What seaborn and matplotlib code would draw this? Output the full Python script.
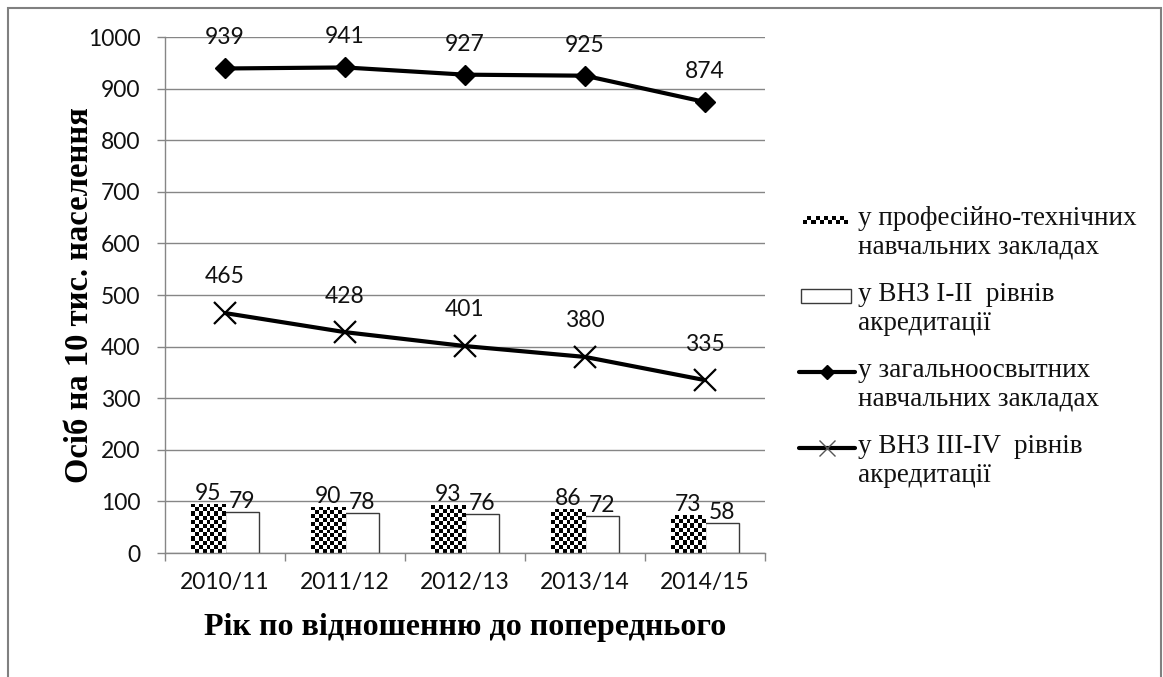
import numpy as np
import pandas as pd
import matplotlib
matplotlib.use("Agg")
import matplotlib.pyplot as plt
import seaborn as sns
from matplotlib.colors import ListedColormap
from matplotlib.patches import Rectangle, Patch
from matplotlib.lines import Line2D
from matplotlib.legend_handler import HandlerLine2D, HandlerBase
from matplotlib.transforms import Affine2D

# ---- data -------------------------------------------------------------
years = ["2010/11", "2011/12", "2012/13", "2013/14", "2014/15"]
vocational = [95, 90, 93, 86, 73]          # у професійно-технічних навчальних закладах
colleges_1_2 = [79, 78, 76, 72, 58]        # у ВНЗ I-II рівнів акредитації
schools = [939, 941, 927, 925, 874]        # у загальноосвітних навчальних закладах
universities_3_4 = [465, 428, 401, 380, 335]  # у ВНЗ III-IV рівнів акредитації

series_names = [
    "у професійно-технічних\nнавчальних закладах",
    "у ВНЗ I-II  рівнів\nакредитації",
    "у загальноосвытних\nнавчальних закладах",
    "у ВНЗ III-IV  рівнів\nакредитації",
]
y_ticks = list(range(0, 1001, 100))

# ---- style ------------------------------------------------------------
sns.set_style("white")
plt.rcParams["font.family"] = ["Lato", "DejaVu Sans"]
GRID = "#868686"
TXT = "#111111"
SERIF = ["Liberation Serif", "DejaVu Serif"]

W, H = 1163, 677
fig = plt.figure(figsize=(W / 100, H / 100), dpi=100)
ax = fig.add_axes([165 / W, 1 - 553 / H, 600 / W, 516 / H])

# ---- bars -------------------------------------------------------------
bars = pd.DataFrame({
    "year": years * 2,
    "value": vocational + colleges_1_2,
    "series": [series_names[0]] * len(years) + [series_names[1]] * len(years),
})
sns.barplot(data=bars, x="year", y="value", hue="series",
            palette=["black", "white"], saturation=1, width=0.57,
            legend=False, ax=ax, zorder=2)
ax.set_xlim(-0.5, len(years) - 0.5)
ax.set_ylim(0, 1000)

checker_bars, plain_bars = ax.containers[0], ax.containers[1]
for p in plain_bars:
    p.set_facecolor("white")
    p.set_edgecolor("#3a3a3a")
    p.set_linewidth(1.0)

# small-checkerboard fill for the vocational bars
CELL = 4.0  # px
checker_cmap = ListedColormap(["white", "black"])
for p in checker_bars:
    p.set_facecolor("white")
    p.set_edgecolor("none")
    x, y, w, h = p.get_x(), p.get_y(), p.get_width(), p.get_height()
    (x0, y0), (x1, y1) = ax.transData.transform([(x, y), (x + w, y + h)])
    nx = max(1, int(round((x1 - x0) / CELL)))
    ny = max(1, int(round((y1 - y0) / CELL)))
    grid = np.add.outer(np.arange(ny), np.arange(nx)) % 2
    im = ax.imshow(grid, cmap=checker_cmap, extent=(x, x + w, y, y + h),
                   origin="lower", aspect="auto", interpolation="nearest",
                   zorder=2.5)
    im.set_clip_path(p)
ax.set_xlim(-0.5, len(years) - 0.5)
ax.set_ylim(0, 1000)

ax.bar_label(checker_bars, labels=[str(v) for v in vocational], padding=0,
             fontsize=16.5, color=TXT)
ax.bar_label(plain_bars, labels=[str(v) for v in colleges_1_2], padding=0,
             fontsize=16.5, color=TXT)

# ---- lines ------------------------------------------------------------
pos = np.arange(len(years))
sns.lineplot(x=pos, y=schools, color="black", linewidth=3, marker="D",
             markersize=10.5, markeredgecolor="black", markeredgewidth=1,
             ax=ax, zorder=4)
sns.lineplot(x=pos, y=universities_3_4, color="black", linewidth=3, marker="x",
             markersize=16, markeredgecolor="black", markeredgewidth=1.6,
             ax=ax, zorder=4)
for i, v in enumerate(schools):
    ax.annotate(str(v), (i, v), xytext=(0, 22), textcoords="offset points",
                ha="center", va="center", fontsize=16.5, color=TXT, zorder=5)
for i, v in enumerate(universities_3_4):
    ax.annotate(str(v), (i, v), xytext=(0, 26), textcoords="offset points",
                ha="center", va="center", fontsize=16.5, color=TXT, zorder=5)

ax.set_xlim(-0.5, len(years) - 0.5)
ax.set_ylim(0, 1000)

# ---- axes ---------------------------------------------------------------
ax.set_axisbelow(True)
ax.set_yticks(y_ticks)
ax.set_xticks(pos)
ax.set_xticklabels(years)
ax.set_xticks(np.arange(-0.5, len(years)), minor=True)
ax.tick_params(axis="x", which="major", bottom=False, pad=10,
               labelsize=16.5, labelcolor=TXT)
ax.tick_params(axis="x", which="minor", bottom=True, length=5.8, width=1,
               color=GRID, direction="out")
ax.tick_params(axis="y", which="major", left=True, length=5.8, width=1,
               color=GRID, direction="out", pad=12, labelsize=16.5,
               labelcolor=TXT)
ax.yaxis.grid(True, color=GRID, linewidth=1)
ax.xaxis.grid(False)
for side in ("top", "right"):
    ax.spines[side].set_visible(False)
for side in ("left", "bottom"):
    ax.spines[side].set_color(GRID)
    ax.spines[side].set_linewidth(1)

ax.set_xlabel("Рік по відношенню до попереднього", family=SERIF,
              fontweight="bold", fontsize=23, color="black")
ax.set_ylabel("Осіб на 10 тис. населення", family=SERIF,
              fontweight="bold", fontsize=23.5, color="black")
ax.xaxis.label.set_va("center")
ax.yaxis.label.set_va("center")
ax.xaxis.set_label_coords(0.5, (553 - 628) / 516)
ax.yaxis.set_label_coords((80 - 165) / 600, 0.5)

# ---- legend -------------------------------------------------------------
RAISE = 0.47  # lift keys to the first line of two-line labels


class RaisedLine(HandlerLine2D):
    def create_artists(self, legend, orig_handle, xdescent, ydescent,
                       width, height, fontsize, trans):
        t = Affine2D().translate(0, RAISE * fontsize) + trans
        return super().create_artists(legend, orig_handle, xdescent, ydescent,
                                      width, height, fontsize, t)


class BoxKey(HandlerBase):
    def create_artists(self, legend, orig_handle, xdescent, ydescent,
                       width, height, fontsize, trans):
        t = Affine2D().translate(0, RAISE * fontsize) + trans
        bh = 0.5 * fontsize
        cy = (height - ydescent) / 2
        r = Rectangle((-xdescent + 0.04 * width, cy - bh / 2), 0.9 * width, bh,
                      facecolor="white", edgecolor="#3a3a3a", lw=1,
                      transform=t)
        return [r]


class CheckerKey(HandlerBase):
    def create_artists(self, legend, orig_handle, xdescent, ydescent,
                       width, height, fontsize, trans):
        t = Affine2D().translate(0, RAISE * fontsize) + trans
        cell = 2.9
        ncol = 11
        cy = (height - ydescent) / 2
        x0 = -xdescent + 0.08 * width
        out = []
        for r in range(2):
            for c in range(ncol):
                out.append(Rectangle((x0 + c * cell, cy - cell + r * cell),
                                     cell, cell,
                                     facecolor="black" if (r + c) % 2 == 0 else "white",
                                     edgecolor="none", transform=t))
        return out


h_voc = Patch(facecolor="black", label=series_names[0])
h_col = Patch(facecolor="white", edgecolor="#3a3a3a", label=series_names[1])
h_sch = Line2D([], [], color="black", lw=3, marker="D", markersize=7.5,
               markeredgecolor="black", label=series_names[2])
h_uni = Line2D([], [], color="black", lw=3, marker="x", markersize=12,
               markeredgewidth=1, markeredgecolor="#555555",
               label=series_names[3])

fig.legend(handles=[h_voc, h_col, h_sch, h_uni], loc="upper left",
           bbox_to_anchor=(799 / W, 1 - 206 / H), frameon=False,
           prop={"family": SERIF, "size": 19.5}, labelcolor=TXT,
           handlelength=2.05, handletextpad=0.12, labelspacing=0.82,
           borderpad=0, borderaxespad=0,
           handler_map={h_voc: CheckerKey(), h_col: BoxKey(),
                        Line2D: RaisedLine()})

# outer frame of the chart area
fig.patches.append(Rectangle((8 / W, -0.1), (1161 - 8) / W, 1.1 - 8 / H,
                             transform=fig.transFigure, fill=False,
                             edgecolor="#808080", linewidth=1.5))

fig.savefig("out.png", dpi=100)
